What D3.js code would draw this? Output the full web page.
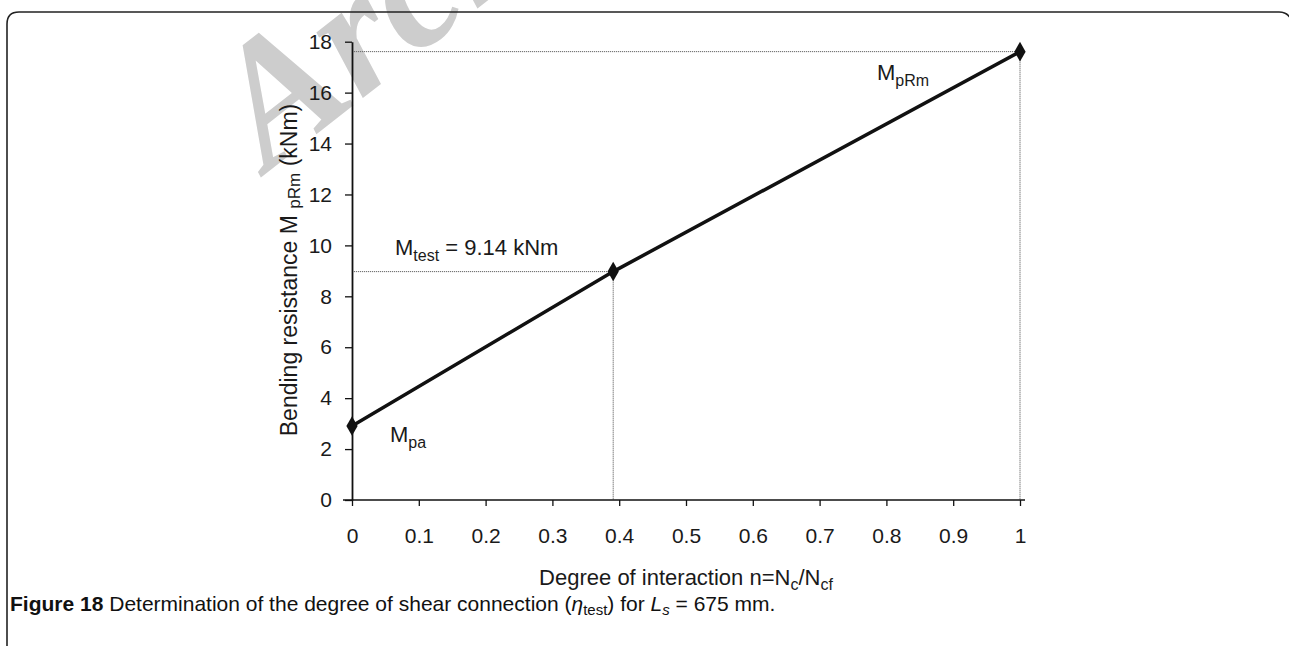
<!DOCTYPE html>
<html>
<head>
<meta charset="utf-8">
<script src="https://cdn.jsdelivr.net/npm/d3@7"></script>
<style>
  body { margin: 0; background: #fff; }
  svg { display: block; }
  .tick text { font-family: "Liberation Sans", Arial, sans-serif; font-size: 21px; fill: #1a1a1a; }
</style>
</head>
<body>
<div id="chart"></div>
<script>
// Data
const interaction = [0, 0.391, 1];          // n = Nc/Ncf
const resistance = [2.91, 8.97, 17.61];     // M (kNm)
const xTicks = [0, 0.1, 0.2, 0.3, 0.4, 0.5, 0.6, 0.7, 0.8, 0.9, 1];
const yTicks = [0, 2, 4, 6, 8, 10, 12, 14, 16, 18];

const width = 1289;
const height = 646;

const svg = d3.select('#chart')
  .append('svg')
  .attr('width', width)
  .attr('height', height);

// faint watermark behind everything (only its lower part is in view)
svg.append('text')
  .attr('transform', 'translate(268,172) rotate(-38)')
  .attr('font-family', '"Liberation Serif", "DejaVu Serif", serif')
  .attr('font-style', 'italic')
  .attr('font-weight', 'bold')
  .attr('font-size', 175)
  .attr('fill', '#cdcdcd')
  .text('Archive');

// frame round the figure
svg.append('path')
  .attr('d', 'M7,646 V24 Q7,12 19,12 H1279 Q1289,12 1292,22')
  .attr('fill', 'none')
  .attr('stroke', '#222')
  .attr('stroke-width', 1.6);

const xScale = d3.scaleLinear().domain([0, 1]).range([352, 1020]);
const yScale = d3.scaleLinear().domain([0, 18]).range([500, 41.7]);

// guide lines
const guides = svg.append('g')
  .attr('stroke', '#666')
  .attr('stroke-width', 1)
  .attr('stroke-dasharray', '1.2,0.8');

[1, 2].forEach((i) => {
  guides.append('line')
    .attr('x1', xScale(0)).attr('x2', xScale(interaction[i]))
    .attr('y1', yScale(resistance[i])).attr('y2', yScale(resistance[i]));
  guides.append('line')
    .attr('x1', xScale(interaction[i])).attr('x2', xScale(interaction[i]))
    .attr('y1', yScale(resistance[i])).attr('y2', yScale(0));
});

// axes
const xAxis = d3.axisBottom(xScale)
  .tickValues(xTicks)
  .tickFormat(d3.format('~g'))
  .tickSize(6)
  .tickSizeOuter(0)
  .tickPadding(22);

const yAxis = d3.axisLeft(yScale)
  .tickValues(yTicks)
  .tickSize(7)
  .tickSizeOuter(0)
  .tickPadding(13);

const gx = svg.append('g')
  .attr('transform', `translate(0, ${yScale(0)})`)
  .call(xAxis);
gx.select('.domain').remove();
gx.append('line')
  .attr('x1', xScale(0) - 9).attr('x2', xScale(1) + 5)
  .attr('stroke', '#111').attr('stroke-width', 1.5);
gx.selectAll('.tick line').attr('stroke', '#111').attr('stroke-width', 1.3);

const gy = svg.append('g')
  .attr('transform', `translate(${xScale(0)}, 0)`)
  .call(yAxis);
gy.select('.domain').attr('stroke', '#111').attr('stroke-width', 1.8);
gy.selectAll('.tick line').attr('stroke', '#111').attr('stroke-width', 1.3);

// series line + markers
const points = interaction.map((d, i) => ({ x: d, y: resistance[i] }));
const line = d3.line().x((d) => xScale(d.x)).y((d) => yScale(d.y));

svg.append('path')
  .datum(points)
  .attr('d', line)
  .attr('fill', 'none')
  .attr('stroke', '#111')
  .attr('stroke-width', 3.5);

svg.append('g')
  .selectAll('path')
  .data(points)
  .join('path')
  .attr('transform', (d) => `translate(${xScale(d.x)}, ${yScale(d.y)})`)
  .attr('d', d3.symbol(d3.symbolDiamond, 110))
  .attr('fill', '#111');

// labels with subscripts
const font = '"Liberation Sans", Arial, sans-serif';
function subLabel(x, y, main, sub, rest) {
  const t = svg.append('text')
    .attr('x', x).attr('y', y)
    .attr('font-family', font)
    .attr('font-size', 22)
    .attr('fill', '#1a1a1a');
  t.append('tspan').text(main);
  t.append('tspan').attr('dy', 6).attr('font-size', 16).text(sub);
  if (rest) t.append('tspan').attr('dy', -6).text(rest);
  return t;
}

subLabel(877, 80, 'M', 'pRm');
subLabel(395, 255, 'M', 'test', ' = 9.14 kNm');
subLabel(390, 442, 'M', 'pa');

// axis titles
const xt = svg.append('text')
  .attr('x', 686).attr('y', 585)
  .attr('text-anchor', 'middle')
  .attr('font-family', font)
  .attr('font-size', 22)
  .attr('fill', '#1a1a1a');
xt.append('tspan').text('Degree of interaction n=N');
xt.append('tspan').attr('dy', 5).attr('font-size', 16).text('c');
xt.append('tspan').attr('dy', -5).text('/N');
xt.append('tspan').attr('dy', 5).attr('font-size', 16).text('cf');

const yt = svg.append('text')
  .attr('transform', 'translate(291, 270) rotate(-90)')
  .attr('text-anchor', 'middle')
  .attr('dominant-baseline', 'middle')
  .attr('font-family', font)
  .attr('font-size', 23)
  .attr('fill', '#1a1a1a');
yt.append('tspan').text('Bending resistance M ');
yt.append('tspan').attr('dy', 5).attr('font-size', 17).text('pRm');
yt.append('tspan').attr('dy', -5).text(' (kNm)');

// caption
const cap = svg.append('text')
  .attr('x', 10).attr('y', 611)
  .attr('font-family', font)
  .attr('font-size', 21)
  .attr('fill', '#111');
cap.append('tspan').attr('font-weight', 'bold').text('Figure 18');
cap.append('tspan').text(' Determination of the degree of shear connection (');
cap.append('tspan').attr('font-style', 'italic').text('η');
cap.append('tspan').attr('dy', 4).attr('font-size', 15).text('test');
cap.append('tspan').attr('dy', -4).text(') for ');
cap.append('tspan').attr('font-style', 'italic').text('L');
cap.append('tspan').attr('dy', 4).attr('font-size', 15).attr('font-style', 'italic').text('s');
cap.append('tspan').attr('dy', -4).text(' = 675 mm.');
</script>
</body>
</html>
